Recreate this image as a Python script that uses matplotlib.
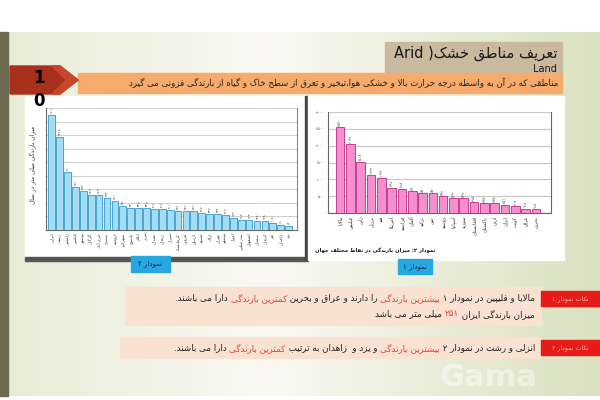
import re
import numpy as np
import matplotlib
matplotlib.use("Agg")
import matplotlib.pyplot as plt
from matplotlib.patches import Rectangle, Polygon

plt.rcParams['font.family'] = ['DejaVu Sans']

# ---------------- data ----------------
iran_cities = ['انزلی', 'رشت', 'رامسر', 'بابلسر', 'نوشهر', 'گرگان', 'خرم آباد', 'سنندج',
               'ارومیه', 'شهرکرد', 'یاسوج', 'ایلام', 'تبریز', 'همدان', 'زنجان', 'شیراز',
               'کرمانشاه', 'قزوین', 'اردبیل', 'مشهد', 'اراک', 'تهران', 'بوشهر', 'اهواز',
               'بندرعباس', 'اصفهان', 'سمنان', 'کرمان', 'قم', 'زاهدان', 'یزد']
iran_rain = [1690, 1365, 860, 636, 572, 513, 513, 473, 429, 350, 330, 325, 325, 311, 311, 301,
             281, 276, 276, 247, 237, 232, 217, 173, 148, 143, 133, 128, 108, 69, 54]

world_places = ['مالایا', 'فیلیپین', 'ژاپن', 'برزیل', 'هند', 'آمریکا', 'فرانسه', 'آلمان',
                'ترکیه', 'چین', 'روسیه', 'اسپانیا', 'سوریه', 'افغانستان', 'پاکستان', 'اردن',
                'ایران', 'کویت', 'عراق', 'بحرین']
world_rain = [2540, 2047, 1516, 1132, 1043, 748, 718, 640, 590, 590, 492, 443, 443, 315, 295,
              295, 251, 207, 128, 118]
world_ticks = [0, 500, 1000, 1500, 2000, 2500, 3000]

# ---------------- simple persian shaping ----------------
FORMS = {
    'ا': ('\uFE8D', '\uFE8E', None, None), 'آ': ('\uFE81', '\uFE82', None, None),
    'أ': ('\uFE83', '\uFE84', None, None),
    'ب': ('\uFE8F', '\uFE90', '\uFE91', '\uFE92'), 'پ': ('\uFB56', '\uFB57', '\uFB58', '\uFB59'),
    'ت': ('\uFE95', '\uFE96', '\uFE97', '\uFE98'), 'ث': ('\uFE99', '\uFE9A', '\uFE9B', '\uFE9C'),
    'ج': ('\uFE9D', '\uFE9E', '\uFE9F', '\uFEA0'), 'چ': ('\uFB7A', '\uFB7B', '\uFB7C', '\uFB7D'),
    'ح': ('\uFEA1', '\uFEA2', '\uFEA3', '\uFEA4'), 'خ': ('\uFEA5', '\uFEA6', '\uFEA7', '\uFEA8'),
    'د': ('\uFEA9', '\uFEAA', None, None), 'ذ': ('\uFEAB', '\uFEAC', None, None),
    'ر': ('\uFEAD', '\uFEAE', None, None), 'ز': ('\uFEAF', '\uFEB0', None, None),
    'ژ': ('\uFB8A', '\uFB8B', None, None),
    'س': ('\uFEB1', '\uFEB2', '\uFEB3', '\uFEB4'), 'ش': ('\uFEB5', '\uFEB6', '\uFEB7', '\uFEB8'),
    'ص': ('\uFEB9', '\uFEBA', '\uFEBB', '\uFEBC'), 'ض': ('\uFEBD', '\uFEBE', '\uFEBF', '\uFEC0'),
    'ط': ('\uFEC1', '\uFEC2', '\uFEC3', '\uFEC4'), 'ظ': ('\uFEC5', '\uFEC6', '\uFEC7', '\uFEC8'),
    'ع': ('\uFEC9', '\uFECA', '\uFECB', '\uFECC'), 'غ': ('\uFECD', '\uFECE', '\uFECF', '\uFED0'),
    'ف': ('\uFED1', '\uFED2', '\uFED3', '\uFED4'), 'ق': ('\uFED5', '\uFED6', '\uFED7', '\uFED8'),
    'ک': ('\uFB8E', '\uFB8F', '\uFB90', '\uFB91'), 'گ': ('\uFB92', '\uFB93', '\uFB94', '\uFB95'),
    'ل': ('\uFEDD', '\uFEDE', '\uFEDF', '\uFEE0'), 'م': ('\uFEE1', '\uFEE2', '\uFEE3', '\uFEE4'),
    'ن': ('\uFEE5', '\uFEE6', '\uFEE7', '\uFEE8'), 'ه': ('\uFEE9', '\uFEEA', '\uFEEB', '\uFEEC'),
    'و': ('\uFEED', '\uFEEE', None, None),
    'ی': ('\uFBFC', '\uFBFD', '\uFBFE', '\uFBFF'),
}
LAM_ALEF = {'ا': ('\uFEFB', '\uFEFC'), 'آ': ('\uFEF5', '\uFEF6'), 'أ': ('\uFEF7', '\uFEF8')}


def joins_left(c):
    return c in FORMS and FORMS[c][2] is not None


def shape(s):
    out = []
    i = 0
    while i < len(s):
        c = s[i]
        prev = s[i - 1] if i > 0 else ''
        nxt = s[i + 1] if i + 1 < len(s) else ''
        if c not in FORMS:
            out.append(c)
            i += 1
            continue
        jp = joins_left(prev)
        if c == 'ل' and nxt in LAM_ALEF:
            out.append(LAM_ALEF[nxt][1 if jp else 0])
            i += 2
            continue
        jn = joins_left(c) and nxt in FORMS
        iso, fin, ini, med = FORMS[c]
        out.append(med if jp and jn else fin if jp else ini if jn else iso)
        i += 1
    return ''.join(out)


LTR_RUN = re.compile(r'[A-Za-z0-9۰-۹]+(?:[ .:][A-Za-z0-9۰-۹]+)*')
MIRROR = str.maketrans('()', ')(')


def fa(s):
    s = shape(s)
    pieces = []
    pos = 0
    for m in LTR_RUN.finditer(s):
        if m.start() > pos:
            pieces.append(s[pos:m.start()][::-1].translate(MIRROR))
        pieces.append(m.group())
        pos = m.end()
    if pos < len(s):
        pieces.append(s[pos:][::-1].translate(MIRROR))
    return ''.join(reversed(pieces))


def fa_num(n):
    return str(n).translate(str.maketrans('0123456789', '۰۱۲۳۴۵۶۷۸۹'))


# ---------------- figure ----------------
W, H = 600, 400
fig = plt.figure(figsize=(6, 4), dpi=100)
bg = fig.add_axes([0, 0, 1, 1])
bg.set_xlim(0, W)
bg.set_ylim(H, 0)
bg.axis('off')

# slide background
grad = np.linspace(0, 1, 300)
c_left = np.array([232, 236, 214]) / 255
c_mid = np.array([249, 249, 242]) / 255
c_right = np.array([218, 225, 192]) / 255
cols = np.where(grad[:, None] < 0.45,
                c_left + (c_mid - c_left) * (grad[:, None] / 0.45),
                c_mid + (c_right - c_mid) * ((grad[:, None] - 0.45) / 0.55))
bg.imshow(cols[None, :, :], extent=[0, W, 396, 32], aspect='auto', zorder=0)
bg.add_patch(Rectangle((0, 32), 8, 364, color='#6e6a50', zorder=1))
bg.text(488, 378, 'Gama', fontsize=22, color='white', alpha=0.45, ha='center',
        va='center', fontweight='bold', zorder=1)


def add_fa_line(segments, x_right, y, size, default='#222222', weight='normal'):
    r = fig.canvas.get_renderer()
    x = x_right
    for txt, col in segments:
        t = bg.text(x, y, fa(txt), fontsize=size, color=col or default, fontweight=weight,
                    ha='right', va='center', zorder=6)
        bb = t.get_window_extent(renderer=r)
        x -= bb.width * W / fig.bbox.width


# title
bg.add_patch(Rectangle((385, 42), 177, 31, color='#c9b99e', zorder=3))
bg.text(558, 53, fa('تعریف مناطق خشک( Arid'), fontsize=10.5, ha='right', va='center',
        color='#1a1a1a', zorder=4)
bg.text(557, 69, 'Land', fontsize=7, ha='right', va='center', color='#1a1a1a', zorder=3)
bg.add_patch(Rectangle((78, 73), 484, 20, color='#f6ab6c', zorder=4))
add_fa_line([('مناطقی که در آن به واسطه درجه حرارت بالا و خشکی هوا،تبخیر و تعرق از سطح خاک و گیاه از بارندگی فزونی می گیرد', None)],
            558, 83, 6.2)

# red arrow
bg.add_patch(Polygon([(10, 66), (60, 66), (78, 80), (60, 94), (10, 94)],
                     closed=True, color='#a8301c', zorder=5))
bg.add_patch(Polygon([(52, 66), (60, 66), (78, 80), (60, 94), (52, 94), (66, 80)],
                     closed=True, color='#c8452c', zorder=5))
bg.text(39, 78, '1', fontsize=12, fontweight='bold', ha='center', va='center', zorder=6)
bg.text(39, 101, '0', fontsize=12, fontweight='bold', ha='center', va='center', zorder=6)

# chart panels
bg.add_patch(Rectangle((25, 96), 282, 162, color='white', zorder=2))
bg.add_patch(Rectangle((25, 257), 283, 4, color='#555555', zorder=2))
bg.add_patch(Rectangle((305, 96), 3, 164, color='#444444', zorder=2))
bg.add_patch(Rectangle((308, 96), 256, 164, color='white', zorder=2))


def px_axes(x0, y0, x1, y1):
    return fig.add_axes([x0 / W, 1 - y1 / H, (x1 - x0) / W, (y1 - y0) / H])


# left chart (Iran cities)
ax1 = px_axes(46, 108, 297, 230)
ax1.set_facecolor('none')
pos1 = np.arange(len(iran_rain))
ax1.bar(pos1, iran_rain, width=0.85, color='#a4dcf2', edgecolor='#2f9ad0', linewidth=0.6, zorder=3)
for xx, v in zip(pos1, iran_rain):
    ax1.text(xx, v + 30, fa_num(v), fontsize=2.5, rotation=90, ha='center', va='bottom', color='#444444')
ax1.set_xlim(-0.72, 31.06)
ax1.set_ylim(0, 1800)
ax1.set_yticks(range(0, 1801, 200))
ax1.set_yticklabels([])
ax1.tick_params(axis='y', length=0)
ax1.grid(axis='y', color='#cfcfcf', linewidth=0.8, zorder=0)
ax1.set_xticks(pos1)
ax1.set_xticklabels([fa(c) for c in iran_cities], rotation=90, fontsize=3.2, color='#333333')
ax1.tick_params(axis='x', length=0, pad=2)
ax1.spines['top'].set_visible(False)
ax1.spines['left'].set_color('#666666')
ax1.spines['bottom'].set_color('#666666')
ax1.spines['right'].set_color('#888888')
bg.text(33, 165, fa('میزان بارندگی میلی متر در سال'), rotation=90, fontsize=4.2,
        ha='center', va='center', color='#333333', zorder=6)

# right chart (world)
ax2 = px_axes(328, 112, 551, 213)
ax2.set_facecolor('none')
pos2 = np.arange(len(world_rain))
ax2.bar(pos2, world_rain, width=0.84, color='#f38fcf', edgecolor='#c0287f', linewidth=0.6, zorder=3)
for xx, v in zip(pos2, world_rain):
    ax2.text(xx, v + 40, fa_num(v), fontsize=2.8, rotation=90, ha='center', va='bottom', color='#444444')
ax2.set_xlim(-1.17, 20.46)
ax2.set_ylim(0, 3000)
ax2.set_yticks(world_ticks)
ax2.set_yticklabels([fa_num(t) for t in world_ticks], fontsize=3.2, color='#555555')
ax2.tick_params(axis='y', length=0, pad=2)
ax2.grid(axis='y', color='#c8c8c8', linewidth=0.9, zorder=0)
ax2.set_xticks(pos2)
ax2.set_xticklabels([fa(c) for c in world_places], rotation=90, fontsize=3.4, color='#333333')
ax2.tick_params(axis='x', length=0, pad=2)
ax2.spines['top'].set_visible(False)
for s in ['left', 'bottom', 'right']:
    ax2.spines[s].set_color('#666666')
add_fa_line([('نمودار ۲: میزان بارندگی در نقاط مختلف جهان', None)], 435, 251, 3.8,
            default='#111111', weight='bold')

# chart name boxes
bg.add_patch(Rectangle((131, 256), 39, 16, color='#27a7e1', zorder=5))
bg.text(150.5, 264, fa('نمودار ۲'), fontsize=5, ha='center', va='center', color='#1b2a40', zorder=6)
bg.add_patch(Rectangle((398, 259), 34, 15, color='#27a7e1', zorder=5))
bg.text(415, 266.5, fa('نمودار ۱'), fontsize=5, ha='center', va='center', color='#1b2a40', zorder=6)

# notes
RED = '#e0443a'
bg.add_patch(Rectangle((125, 287), 416, 38, color='#f9e2d2', zorder=3))
bg.add_patch(Rectangle((541, 291), 59, 15, color='#e81b1b', zorder=4))
bg.text(570, 298.5, fa('نکات نمودار ۱'), fontsize=4.5, ha='center', va='center', color='#f7c0a0', zorder=6)
add_fa_line([('مالایا و فلیپین در نمودار ۱ ', None), ('بیشترین بارندگی', RED),
             (' را دارند و عراق و بحرین ', None), ('کمترین بارندگی', RED),
             (' دارا می باشند.', None)], 535, 298, 6.3)
add_fa_line([('میزان بارندگی ایران ', None), ('۲۵۱', RED), (' میلی متر می باشد', None)],
            535, 314, 6.3)

bg.add_patch(Rectangle((120, 337), 421, 21, color='#f9e2d2', zorder=3))
bg.add_patch(Rectangle((541, 340), 59, 15, color='#e81b1b', zorder=4))
bg.text(570, 347.5, fa('نکات نمودار ۲'), fontsize=4.5, ha='center', va='center', color='#f7c0a0', zorder=6)
add_fa_line([('انزلی و رشت در نمودار ۲ ', None), ('بیشترین بارندگی', RED),
             (' و یزد و  زاهدان به ترتیب ', None), ('کمترین بارندگی', RED),
             (' دارا می باشند.', None)], 535, 348, 6.3)

fig.savefig('out.png', dpi=100)
